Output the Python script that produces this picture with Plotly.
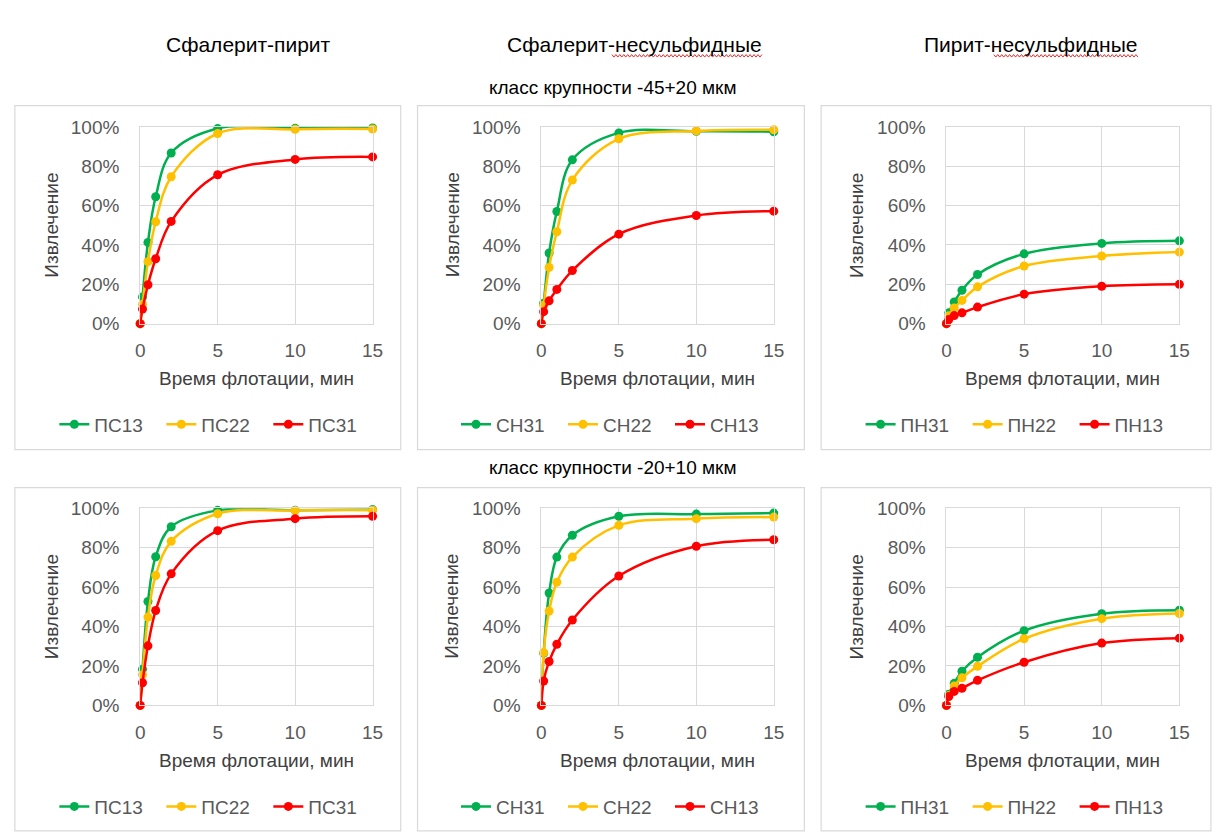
import plotly.graph_objects as go

W, H = 1217, 838

# ---------------- data ----------------
times = [0, 0.15, 0.5, 1, 2, 5, 10, 15]

col_titles = ["Сфалерит-пирит", "Сфалерит-несульфидные", "Пирит-несульфидные"]
row_titles = ["класс крупности -45+20 мкм", "класс крупности -20+10 мкм"]
y_title = "Извлечение"
x_title = "Время флотации, мин"
x_tick_vals = [0, 5, 10, 15]
y_tick_vals = [0, 20, 40, 60, 80, 100]
y_tick_text = ["0%", "20%", "40%", "60%", "80%", "100%"]

series_names = [
    ["ПС13", "ПС22", "ПС31"],
    ["СН31", "СН22", "СН13"],
    ["ПН31", "ПН22", "ПН13"],
]

# row 1: -45+20 мкм   (values in %)
ps13_a = [0, 13.6, 41.3, 64.5, 86.8, 99.2, 99.3, 99.5]
ps22_a = [0, 9.9, 31.5, 51.8, 74.7, 96.7, 98.8, 99.0]
ps31_a = [0, 7.4, 19.8, 33.0, 52.0, 75.7, 83.5, 84.8]
sn31_a = [0, 10.4, 35.9, 57.0, 83.3, 97.0, 97.8, 97.6]
sn22_a = [0, 9.4, 28.6, 46.7, 73.0, 94.0, 98.0, 98.6]
sn13_a = [0, 6.1, 11.6, 17.4, 27.0, 45.5, 55.0, 57.2]
pn31_a = [0, 5.5, 11.0, 17.0, 25.0, 35.5, 40.8, 42.1]
pn22_a = [0, 4.0, 8.0, 11.8, 18.7, 29.3, 34.4, 36.4]
pn13_a = [0, 2.1, 4.1, 5.5, 8.4, 15.0, 19.0, 20.0]

# row 2: -20+10 мкм
ps13_b = [0, 18.4, 52.7, 75.4, 90.6, 98.9, 99.0, 99.3]
ps22_b = [0, 15.6, 44.8, 65.9, 83.2, 97.2, 98.8, 99.0]
ps31_b = [0, 11.5, 30.2, 48.1, 66.7, 88.6, 94.7, 95.9]
sn31_b = [0, 26.5, 57.0, 75.2, 86.3, 95.9, 97.0, 97.5]
sn22_b = [0, 26.8, 47.9, 62.5, 75.2, 91.3, 94.7, 95.5]
sn13_b = [0, 12.4, 22.3, 31.0, 43.3, 65.6, 80.7, 84.0]
pn31_b = [0, 5.7, 11.2, 17.3, 24.4, 37.9, 46.5, 48.3]
pn22_b = [0, 5.0, 9.9, 14.0, 19.8, 33.8, 44.0, 46.6]
pn13_b = [0, 4.5, 7.1, 8.7, 12.7, 21.9, 31.6, 34.1]

panels = [
    [ps13_a, ps22_a, ps31_a], [sn31_a, sn22_a, sn13_a], [pn31_a, pn22_a, pn13_a],
    [ps13_b, ps22_b, ps31_b], [sn31_b, sn22_b, sn13_b], [pn31_b, pn22_b, pn13_b],
]

colors = ["#00B050", "#FFC000", "#FF0000"]

# ---------------- layout geometry (pixels) ----------------
FONT = "Liberation Sans, Arial, sans-serif"
TXT = "#595959"
GRID = "#D9D9D9"

col_x = [(137, 372.5), (543.5, 779), (954, 1190)]
row_y = [(120, 321.7), (511, 713.3)]
box_x = [(10, 401), (418, 810), (827, 1222)]
box_y = [(98, 451), (490, 842)]
ytitle_x = [47, 453, 863]
legend_x = [50, 457, 867]
legend_y = [425, 817]
xtitle_y = [378, 770]


def px(x):
    return x / W


def py(y):
    return 1 - y / H


fig = go.Figure()
layout = dict(
    width=W, height=H,
    margin=dict(l=0, r=0, t=0, b=0),
    paper_bgcolor="white", plot_bgcolor="white",
    font=dict(family=FONT, size=18, color=TXT),
    showlegend=True,
)
annotations = []
shapes = []

for i, data in enumerate(panels):
    r, c = divmod(i, 3)
    n = i + 1
    xa = "x" if n == 1 else f"x{n}"
    ya = "y" if n == 1 else f"y{n}"
    lg = "legend" if n == 1 else f"legend{n}"
    for k in range(3):
        fig.add_trace(go.Scatter(
            x=times, y=data[k], name=series_names[c][k],
            mode="lines+markers",
            line=dict(color=colors[k], width=2.5, shape="spline", smoothing=1.0),
            marker=dict(color=colors[k], size=9),
            xaxis=xa, yaxis=ya, legend=lg, cliponaxis=False,
        ))
    x0, x1 = col_x[c]
    y0, y1 = row_y[r]
    layout["xaxis" if n == 1 else f"xaxis{n}"] = dict(
        domain=[px(x0), px(x1)], anchor=ya, range=[0, 15],
        tickmode="array", tickvals=x_tick_vals,
        showgrid=True, gridcolor=GRID, gridwidth=1,
        zeroline=False, showline=True, linecolor=GRID, mirror=True,
        ticks="", ticklabelstandoff=10,
        tickfont=dict(size=19, color=TXT),
    )
    layout["yaxis" if n == 1 else f"yaxis{n}"] = dict(
        domain=[py(y1), py(y0)], anchor=xa, range=[0, 100],
        tickmode="array", tickvals=y_tick_vals, ticktext=y_tick_text,
        showgrid=True, gridcolor=GRID,
        gridwidth=1, zeroline=False, showline=True, linecolor=GRID, mirror=True,
        ticks="", ticklabelstandoff=16,
        tickfont=dict(size=19, color=TXT),
    )
    layout[lg] = dict(
        orientation="h", x=px(legend_x[c]), y=py(legend_y[r]),
        xanchor="left", yanchor="middle", font=dict(size=19, color=TXT),
        bgcolor="rgba(0,0,0,0)", entrywidth=62, entrywidthmode="pixels",
        itemwidth=30, traceorder="normal",
    )
    # axis titles
    annotations.append(dict(
        text=x_title, x=px((x0 + x1) / 2), y=py(xtitle_y[r]), xref="paper",
        yref="paper", showarrow=False, xanchor="center", yanchor="middle",
        font=dict(size=19, color="#404040"),
    ))
    annotations.append(dict(
        text=y_title, x=px(ytitle_x[c]), y=py((y0 + y1) / 2), xref="paper",
        yref="paper", showarrow=False, xanchor="center", yanchor="middle",
        textangle=-90, font=dict(size=19, color="#404040"),
    ))
    # chart area border
    bx0, bx1 = box_x[c]
    by0, by1 = box_y[r]
    shapes.append(dict(type="rect", xref="paper", yref="paper",
                       x0=px(bx0), x1=px(bx1), y0=py(by1), y1=py(by0),
                       line=dict(color="#D9D9D9", width=1.2), layer="below"))

# column titles
title_x = [247, 638, 1040]
for c in range(3):
    annotations.append(dict(
        text=col_titles[c], x=px(title_x[c]), y=py(35), xref="paper", yref="paper",
        showarrow=False, xanchor="center", yanchor="middle",
        font=dict(size=21, color="black"),
    ))
# size class labels
for r, yy in enumerate([80, 469]):
    annotations.append(dict(
        text=row_titles[r], x=px(616), y=py(yy), xref="paper", yref="paper",
        showarrow=False, xanchor="center", yanchor="middle",
        font=dict(size=19, color="black"),
    ))


# spell-check wavy underlines
def wavy(xs, xe, y):
    pts = []
    xcur = xs
    up = True
    while xcur <= xe:
        pts.append((xcur, y - 1.3 if up else y + 1.3))
        up = not up
        xcur += 2
    d = "M " + " L ".join(f"{px(a):.5f},{py(b):.5f}" for a, b in pts)
    return dict(type="path", path=d, xref="paper", yref="paper",
                line=dict(color="#E03030", width=1))


shapes.append(wavy(615, 768, 47))
shapes.append(wavy(1002, 1148, 47))

layout["annotations"] = annotations
layout["shapes"] = shapes
fig.update_layout(**layout)

fig.write_html("out.html")
